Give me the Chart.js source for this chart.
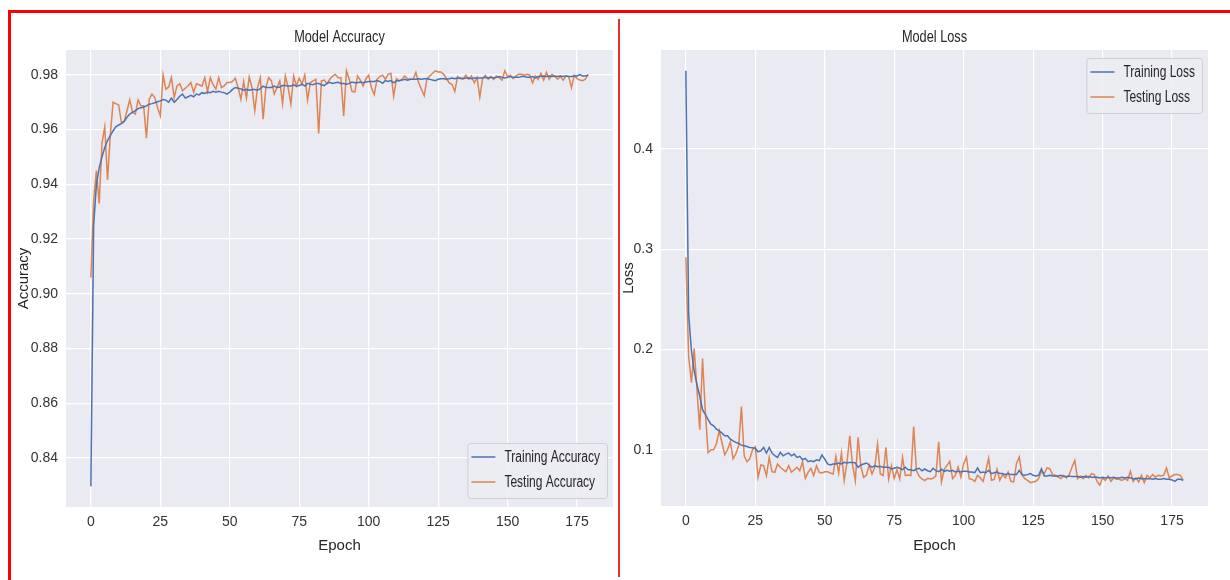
<!DOCTYPE html>
<html>
<head>
<meta charset="utf-8">
<script src="https://cdn.jsdelivr.net/npm/chart.js@4"></script>
<style>
  html, body { margin: 0; padding: 0; background: #fff; }
  #wrap { position: relative; width: 1230px; height: 580px; overflow: hidden; }
  canvas { position: absolute; top: 0; }
  #accChart { left: 0; }
  #lossChart { left: 620px; }
  .frame { position: absolute; left: 8px; top: 10px; width: 1219px; height: 575px;
           border-top: 3px solid #ff0000; border-left: 3px solid #ff0000; border-right: 1px solid #f2a0a0; }
  .divider { position: absolute; left: 618px; top: 19px; width: 2px; height: 558px; background: #e83030; }
</style>
</head>
<body>
<div id="wrap">
  <canvas id="accChart" width="619" height="580"></canvas>
  <canvas id="lossChart" width="610" height="580"></canvas>
  <div class="frame"></div>
  <div class="divider"></div>
</div>
<script>
// Training history: accuracy / loss per epoch
const epochs = Array.from({ length: 180 }, (_, i) => i);
const epochTicks = [0, 25, 50, 75, 100, 125, 150, 175];
const accTicks = [0.84, 0.86, 0.88, 0.90, 0.92, 0.94, 0.96, 0.98];
const lossTicks = [0.1, 0.2, 0.3, 0.4];

const trainAcc = [
  0.8297, 0.925, 0.94, 0.946, 0.950, 0.9535, 0.956, 0.9578, 0.9596, 0.961,
  0.9617, 0.9622, 0.963, 0.9645, 0.9657, 0.9663, 0.9669, 0.9677, 0.968, 0.9683,
  0.9687, 0.9693, 0.9695, 0.9698, 0.9702, 0.9705, 0.971, 0.9708, 0.970, 0.9715,
  0.970, 0.971, 0.9722, 0.973, 0.9715, 0.972, 0.9725, 0.972, 0.973, 0.9727,
  0.9735, 0.9732, 0.9737, 0.9735, 0.974, 0.9737, 0.974, 0.9737, 0.9735, 0.973,
  0.9737, 0.9747, 0.9754, 0.9751, 0.9749, 0.9744, 0.9747, 0.9744, 0.9747, 0.9747,
  0.9744, 0.975, 0.9759, 0.9754, 0.9754, 0.9754, 0.9759, 0.9754, 0.9756, 0.9761,
  0.9761, 0.9759, 0.9759, 0.9764, 0.9759, 0.9761, 0.9766, 0.9759, 0.9769, 0.9766,
  0.9764, 0.9769, 0.9769, 0.9764, 0.9761, 0.9769, 0.9773, 0.9769, 0.9771, 0.9773,
  0.9769, 0.9769, 0.9766, 0.9769, 0.9774, 0.9771, 0.9771, 0.9774, 0.9771, 0.9774,
  0.9776, 0.9776, 0.9776, 0.9779, 0.9776, 0.9769, 0.9779, 0.9776, 0.9779, 0.9771,
  0.9779, 0.9779, 0.9781, 0.9784, 0.9781, 0.9784, 0.9784, 0.9784, 0.9786, 0.9784,
  0.9786, 0.9786, 0.9784, 0.9781, 0.9779, 0.9784, 0.9786, 0.9786, 0.9784, 0.9786,
  0.9789, 0.9786, 0.9789, 0.9789, 0.9786, 0.9789, 0.9789, 0.9786, 0.9789, 0.9789,
  0.9789, 0.9789, 0.9791, 0.9789, 0.9791, 0.9789, 0.9791, 0.9794, 0.9791, 0.9789,
  0.9791, 0.9794, 0.9791, 0.9791, 0.9791, 0.9794, 0.9794, 0.9791, 0.9791, 0.9794,
  0.9789, 0.9794, 0.9794, 0.9796, 0.9794, 0.9796, 0.9794, 0.9796, 0.9794, 0.9796,
  0.9794, 0.9796, 0.9794, 0.9794, 0.9796, 0.9796, 0.9801, 0.9796, 0.9796, 0.9799
];
const testAcc = [
  0.906, 0.934, 0.945, 0.933, 0.955, 0.961, 0.9416, 0.958, 0.970, 0.9695,
  0.969, 0.9626, 0.963, 0.9669, 0.9709, 0.9663, 0.9657, 0.9709, 0.9687, 0.9687,
  0.9569, 0.9711, 0.973, 0.9717, 0.9681, 0.965, 0.980, 0.9748, 0.9756, 0.979,
  0.9717, 0.976, 0.9768, 0.9742, 0.9751, 0.976, 0.9772, 0.9736, 0.9768, 0.9764,
  0.9759, 0.979, 0.9739, 0.979, 0.9764, 0.9748, 0.979, 0.9754, 0.976, 0.9772,
  0.9772, 0.9776, 0.9788, 0.9754, 0.9711, 0.9776, 0.9715, 0.9793, 0.9754, 0.9669,
  0.9754, 0.979, 0.9638, 0.9754, 0.979, 0.9778, 0.973, 0.9754, 0.9778, 0.9695,
  0.9796, 0.9754, 0.9693, 0.9796, 0.976, 0.9788, 0.9766, 0.980, 0.9708, 0.9772,
  0.9778, 0.9784, 0.9586, 0.9778, 0.9781, 0.9768, 0.9784, 0.9796, 0.9802, 0.979,
  0.979, 0.965, 0.9815, 0.9784, 0.974, 0.9737, 0.9796, 0.9781, 0.9759, 0.9786,
  0.9799, 0.9753, 0.9728, 0.9784, 0.9794, 0.9799, 0.9784, 0.9802, 0.9806, 0.9722,
  0.9786, 0.9778, 0.9784, 0.9796, 0.9786, 0.9784, 0.9784, 0.9809, 0.9771, 0.9747,
  0.9724, 0.9786, 0.9796, 0.9806, 0.9815, 0.9811, 0.9811, 0.9802, 0.9786, 0.9771,
  0.9765, 0.974, 0.9794, 0.9786, 0.9786, 0.9799, 0.9784, 0.9796, 0.9771, 0.979,
  0.9719, 0.9786, 0.9799, 0.9784, 0.9794, 0.9784, 0.9796, 0.979, 0.9781, 0.9815,
  0.9794, 0.9799, 0.9786, 0.9796, 0.9802, 0.9802, 0.9799, 0.9802, 0.9799, 0.9771,
  0.9796, 0.9784, 0.9806, 0.9781, 0.9809, 0.9784, 0.9802, 0.9794, 0.9784, 0.9794,
  0.9781, 0.9796, 0.9794, 0.9753, 0.9799, 0.9786, 0.9781, 0.9779, 0.9784, 0.9802
];
const trainLoss = [
  0.478, 0.235, 0.199, 0.1785, 0.165, 0.1536, 0.14, 0.1354, 0.13, 0.1255,
  0.1238, 0.1205, 0.1189, 0.1166, 0.1139, 0.1139, 0.1106, 0.1089, 0.1073, 0.1063,
  0.1046, 0.104, 0.1033, 0.1023, 0.102, 0.1013, 0.098, 0.099, 0.1023, 0.0967,
  0.1023, 0.0967, 0.094, 0.0924, 0.0974, 0.094, 0.0957, 0.0967, 0.094, 0.0957,
  0.0924, 0.0934, 0.09, 0.0914, 0.0881, 0.0891, 0.0881, 0.09, 0.0891, 0.0947,
  0.0907, 0.0858, 0.0848, 0.0858, 0.0858, 0.0868, 0.0858, 0.0874, 0.0868, 0.0874,
  0.0874, 0.0868, 0.0825, 0.0848, 0.0858, 0.0868, 0.0848, 0.0825, 0.0841, 0.0831,
  0.0834, 0.0825, 0.0825, 0.0825, 0.0808, 0.0815, 0.0825, 0.0815, 0.0801, 0.0825,
  0.0801, 0.0801, 0.0791, 0.0808, 0.0815, 0.0791, 0.0808, 0.0791, 0.0781, 0.0815,
  0.0791, 0.0781, 0.0805, 0.0785, 0.0795, 0.0785, 0.0795, 0.0778, 0.0785, 0.0778,
  0.0785, 0.0785, 0.0778, 0.0778, 0.0771, 0.0818, 0.0771, 0.0778, 0.0771, 0.0795,
  0.0762, 0.0771, 0.0778, 0.0762, 0.0762, 0.0752, 0.0762, 0.0752, 0.0752, 0.0752,
  0.0795, 0.0752, 0.0745, 0.0752, 0.0762, 0.0745, 0.0738, 0.0745, 0.0811, 0.0738,
  0.0738, 0.0745, 0.0738, 0.0738, 0.0738, 0.0745, 0.0732, 0.0732, 0.0738, 0.0732,
  0.0732, 0.0732, 0.0725, 0.0732, 0.0725, 0.0732, 0.0725, 0.0725, 0.0725, 0.0719,
  0.0725, 0.0719, 0.0725, 0.0719, 0.0725, 0.0719, 0.0719, 0.0725, 0.0719, 0.0725,
  0.0719, 0.0712, 0.0712, 0.0719, 0.0712, 0.0712, 0.0712, 0.0712, 0.0705, 0.0712,
  0.0705, 0.0705, 0.0712, 0.0705, 0.0705, 0.0699, 0.0685, 0.0705, 0.0705, 0.0695
];
const testLoss = [
  0.292, 0.193, 0.167, 0.201, 0.16, 0.12, 0.191, 0.138, 0.097, 0.1,
  0.1, 0.106, 0.119, 0.107, 0.095, 0.1, 0.108, 0.091, 0.096, 0.104,
  0.143, 0.094, 0.088, 0.091, 0.1, 0.103, 0.0725, 0.0848, 0.0841, 0.0742,
  0.0924, 0.0781, 0.0775, 0.0858, 0.0825, 0.0801, 0.0781, 0.0841, 0.0775, 0.0801,
  0.0825, 0.0791, 0.0881, 0.0715, 0.0775, 0.0815, 0.0742, 0.0841, 0.0775, 0.0768,
  0.0781, 0.0781, 0.0768, 0.0758, 0.0934, 0.0768, 0.0967, 0.0692, 0.0874, 0.1139,
  0.0848, 0.0692, 0.1123, 0.0834, 0.0725, 0.0748, 0.0848, 0.0758, 0.0825, 0.1056,
  0.0758, 0.0742, 0.1023, 0.0709, 0.0841, 0.0715, 0.0801, 0.0709, 0.0924, 0.0742,
  0.0748, 0.0742, 0.1232, 0.0791, 0.0735, 0.0709, 0.0692, 0.0715, 0.0709, 0.0715,
  0.074, 0.108, 0.0679, 0.0805, 0.0844, 0.0884, 0.0712, 0.0745, 0.0828, 0.0728,
  0.0861, 0.0927, 0.0712, 0.0705, 0.0685, 0.0745, 0.0719, 0.0685, 0.0795, 0.0917,
  0.0695, 0.0705, 0.0805, 0.0695, 0.0752, 0.0719, 0.0778, 0.0685, 0.0679, 0.0861,
  0.0927, 0.0752, 0.0712, 0.0695, 0.0672, 0.0679, 0.0685, 0.0712, 0.0785, 0.0762,
  0.0818, 0.0811, 0.0752, 0.0745, 0.0728, 0.0712, 0.0745, 0.0719, 0.0752, 0.0828,
  0.0894, 0.0712, 0.0738, 0.0712, 0.0745, 0.0719, 0.0762, 0.0752, 0.0685, 0.0646,
  0.0719, 0.0695, 0.0738, 0.0685, 0.0719, 0.0705, 0.0705, 0.0695, 0.0712, 0.0695,
  0.0785, 0.0685, 0.0719, 0.0679, 0.0745, 0.0672, 0.0745, 0.0719, 0.0752, 0.0728,
  0.0745, 0.0738, 0.0745, 0.0818, 0.0719, 0.0738, 0.0752, 0.0752, 0.0745, 0.0695
];

const blue = '#4C72B0';
const orange = '#DD8452';
const plotBg = '#EAEAF2';
const textCol = '#262626';
const sans = "'Liberation Sans', Arial, sans-serif";
const squeeze = 0.75;   // reference text is set in a condensed face

// seaborn style: grey plot area, title centred on the axes, legend inside the axes
const seabornPlugin = {
  id: 'seaborn',
  beforeDraw(chart) {
    const a = chart.chartArea, ctx = chart.ctx;
    ctx.save();
    ctx.fillStyle = plotBg;
    ctx.fillRect(a.left, a.top, a.right - a.left, a.bottom - a.top);
    ctx.restore();
  },
  afterDraw(chart, args, opts) {
    const a = chart.chartArea, ctx = chart.ctx;
    ctx.save();
    // title
    ctx.fillStyle = textCol;
    ctx.font = '17px ' + sans;
    ctx.textAlign = 'center';
    ctx.textBaseline = 'middle';
    ctx.save();
    ctx.translate((a.left + a.right) / 2, 37);
    ctx.scale(squeeze, 1);
    ctx.fillText(opts.title, 0, 0);
    ctx.restore();

    // legend box
    ctx.font = '16px ' + sans;
    const sets = chart.data.datasets;
    const textW = squeeze * Math.max(...sets.map(d => ctx.measureText(d.label).width));
    const w = 38 + textW + 6, h = 55;
    const x = a.right - 6 - w;
    const y = opts.legendAt === 'top' ? a.top + 8 : a.bottom - 9 - h;
    ctx.beginPath();
    ctx.roundRect(x + 0.5, y + 0.5, w, h, 3);
    ctx.fillStyle = 'rgba(236,236,243,0.9)';
    ctx.fill();
    ctx.strokeStyle = '#cfcfd4';
    ctx.lineWidth = 1;
    ctx.stroke();
    sets.forEach((d, i) => {
      const ly = y + 14 + i * 25;
      ctx.beginPath();
      ctx.moveTo(x + 4, ly);
      ctx.lineTo(x + 28, ly);
      ctx.strokeStyle = d.borderColor;
      ctx.lineWidth = 1.5;
      ctx.stroke();
      ctx.save();
      ctx.translate(x + 37, ly + 1);
      ctx.scale(squeeze, 1);
      ctx.fillStyle = textCol;
      ctx.textAlign = 'left';
      ctx.fillText(d.label, 0, 0);
      ctx.restore();
    });
    ctx.restore();
  }
};

function series(label, values, color) {
  return {
    label: label,
    data: epochs.map((e, i) => ({ x: e, y: values[i] })),
    borderColor: color,
    backgroundColor: color,
    borderWidth: 1.5,
    pointRadius: 0,
    tension: 0,
    fill: false
  };
}

function makeChart(id, o) {
  return new Chart(document.getElementById(id), {
    type: 'line',
    data: { datasets: [series(o.names[0], o.train, blue), series(o.names[1], o.test, orange)] },
    options: {
      responsive: false,
      animation: false,
      layout: { padding: { top: 50, right: o.padRight, left: 0, bottom: 0 } },
      plugins: {
        legend: { display: false },
        tooltip: { enabled: false },
        seaborn: { title: o.title, legendAt: o.legendAt }
      },
      scales: {
        x: {
          type: 'linear',
          min: -8.95,
          max: 187.95,
          afterBuildTicks: s => { s.ticks = epochTicks.map(v => ({ value: v })); },
          afterFit: s => { s.height = o.xHeight; },
          grid: { color: '#ffffff', lineWidth: 1.2, drawTicks: false },
          border: { display: false },
          ticks: { color: '#333333', padding: 7, font: { family: sans, size: 14 } },
          title: { display: true, text: 'Epoch', color: textCol, padding: { top: 0, bottom: 25 },
                   font: { family: sans, size: 15 } }
        },
        y: {
          min: o.yMin,
          max: o.yMax,
          afterBuildTicks: s => { s.ticks = o.yTicks.map(v => ({ value: v })); },
          afterFit: s => { s.width = o.yWidth; },
          grid: { color: '#ffffff', lineWidth: 1.2, drawTicks: false },
          border: { display: false },
          ticks: { color: '#333333', padding: 8, font: { family: sans, size: 14 },
                   callback: v => v.toFixed(o.decimals) },
          title: { display: true, text: o.yTitle, color: textCol, padding: { top: o.yTitlePad, bottom: 0 },
                   font: { family: sans, size: 15 } }
        }
      }
    },
    plugins: [seabornPlugin]
  });
}

makeChart('accChart', {
  title: 'Model Accuracy',
  names: ['Training Accuracy', 'Testing Accuracy'],
  train: trainAcc, test: testAcc,
  yMin: 0.8221, yMax: 0.9891, yTicks: accTicks, decimals: 2,
  yTitle: 'Accuracy', yTitlePad: 15, yWidth: 66,
  xHeight: 73, padRight: 6, legendAt: 'bottom'
});

makeChart('lossChart', {
  title: 'Model Loss',
  names: ['Training Loss', 'Testing Loss'],
  train: trainLoss, test: testLoss,
  yMin: 0.0439, yMax: 0.4987, yTicks: lossTicks, decimals: 1,
  yTitle: 'Loss', yTitlePad: 0, yWidth: 41,
  xHeight: 74, padRight: 22, legendAt: 'top'
});
</script>
</body>
</html>
